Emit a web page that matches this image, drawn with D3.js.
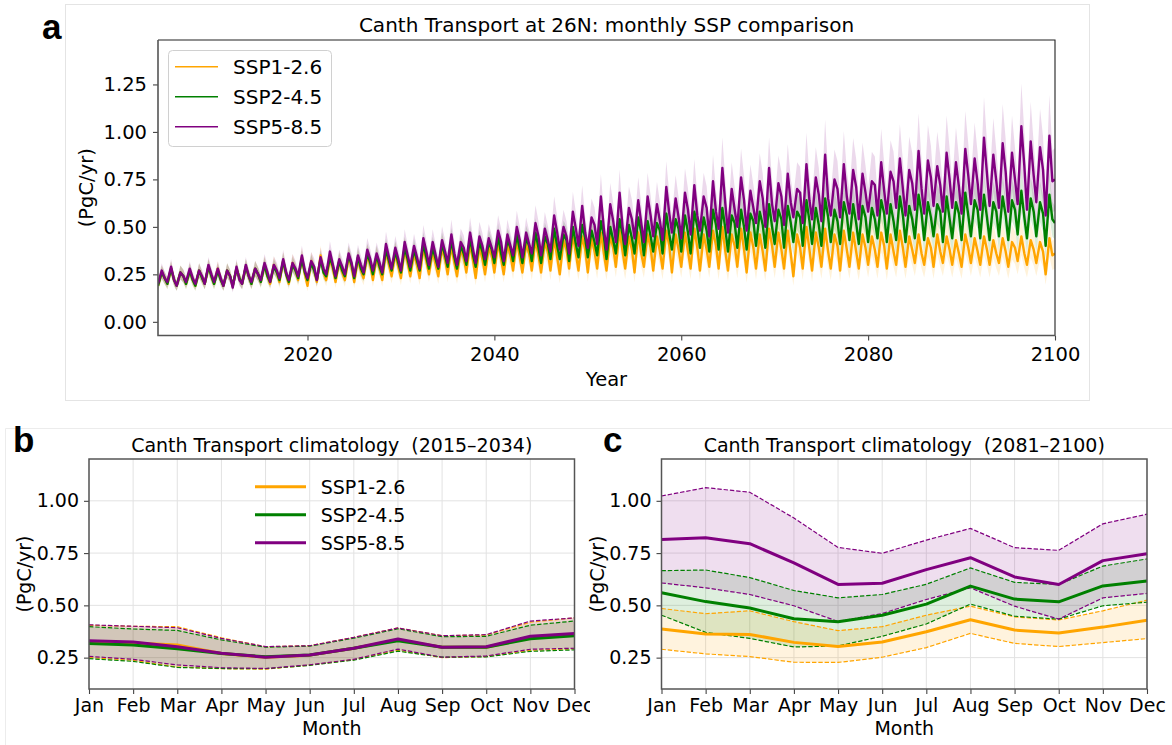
<!DOCTYPE html>
<html><head><meta charset="utf-8">
<script src="https://cdn.jsdelivr.net/npm/d3@7"></script>
<style>
body{margin:0;background:#fff;}
svg text{font-family:"DejaVu Sans",sans-serif;fill:#000;}
</style></head><body>
<svg id="fig" width="1172" height="745"></svg>
<script>
// ---------- data ----------
const scenarios = ["SSP1-2.6", "SSP2-4.5", "SSP5-8.5"];
const colors = ["orange", "green", "purple"];

// per year: seasonal minimum (start of year), maximum, and late-year value
const years = d3.range(2004, 2100);
const ssp126Hi = [0.26,0.28,0.26,0.27,0.27,0.29,0.28,0.27,0.28,0.29,
  0.28,0.30,0.30,0.32,0.31,0.34,0.32,0.35,0.33,0.32,
  0.34,0.33,0.35,0.34,0.37,0.36,0.38,0.36,0.39,0.37,
  0.39,0.40,0.38,0.41,0.40,0.39,0.42,0.41,0.43,0.41,
  0.43,0.42,0.44,0.43,0.46,0.45,0.44,0.47,0.45,0.48,
  0.45,0.47,0.46,0.45,0.48,0.46,0.47,0.49,0.46,0.48,
  0.50,0.46,0.49,0.47,0.46,0.49,0.47,0.48,0.46,0.50,
  0.47,0.49,0.46,0.48,0.47,0.46,0.45,0.47,0.46,0.48,
  0.45,0.46,0.44,0.46,0.45,0.43,0.46,0.44,0.45,0.43,
  0.44,0.42,0.45,0.43,0.42,0.44];
const ssp126Mid = [0.23,0.22,0.24,0.22,0.23,0.24,0.22,0.24,0.23,0.24,
  0.25,0.24,0.26,0.25,0.27,0.25,0.27,0.26,0.28,0.26,
  0.29,0.27,0.30,0.28,0.30,0.29,0.31,0.30,0.32,0.30,
  0.33,0.31,0.34,0.32,0.33,0.35,0.33,0.35,0.34,0.36,
  0.35,0.37,0.34,0.38,0.36,0.38,0.37,0.36,0.39,0.37,
  0.38,0.36,0.39,0.37,0.40,0.38,0.37,0.39,0.38,0.40,
  0.37,0.40,0.38,0.39,0.37,0.40,0.38,0.36,0.39,0.38,
  0.39,0.37,0.40,0.38,0.37,0.39,0.38,0.40,0.37,0.39,
  0.38,0.36,0.39,0.37,0.38,0.36,0.39,0.37,0.38,0.36,
  0.37,0.39,0.36,0.38,0.37,0.35];
const ssp126Lo = [0.19,0.20,0.19,0.20,0.19,0.20,0.20,0.19,0.19,0.20,
  0.20,0.21,0.20,0.21,0.20,0.22,0.19,0.21,0.22,0.21,
  0.22,0.21,0.23,0.22,0.22,0.24,0.23,0.24,0.23,0.25,
  0.24,0.25,0.24,0.26,0.23,0.25,0.26,0.25,0.27,0.26,
  0.27,0.26,0.27,0.25,0.28,0.27,0.26,0.28,0.27,0.29,
  0.28,0.26,0.29,0.27,0.28,0.26,0.29,0.28,0.27,0.29,
  0.28,0.27,0.29,0.26,0.28,0.27,0.29,0.28,0.24,0.28,
  0.27,0.29,0.28,0.27,0.29,0.28,0.30,0.29,0.28,0.30,
  0.29,0.31,0.30,0.29,0.31,0.30,0.29,0.31,0.30,0.30,
  0.31,0.29,0.32,0.30,0.31,0.25,0.36];
const ssp245Hi = [0.26,0.28,0.26,0.27,0.27,0.29,0.27,0.27,0.28,0.29,
  0.28,0.30,0.29,0.32,0.30,0.33,0.31,0.33,0.34,0.32,
  0.35,0.34,0.36,0.35,0.38,0.37,0.39,0.38,0.41,0.39,
  0.41,0.43,0.40,0.44,0.42,0.42,0.45,0.43,0.46,0.44,
  0.47,0.45,0.49,0.46,0.50,0.51,0.48,0.53,0.50,0.54,
  0.51,0.55,0.53,0.52,0.57,0.54,0.56,0.58,0.55,0.59,
  0.60,0.56,0.59,0.57,0.58,0.62,0.59,0.61,0.58,0.64,
  0.60,0.65,0.59,0.63,0.62,0.61,0.60,0.64,0.62,0.66,
  0.61,0.67,0.63,0.62,0.66,0.63,0.68,0.64,0.67,0.63,
  0.66,0.64,0.69,0.65,0.63,0.67];
const ssp245Mid = [0.23,0.22,0.24,0.22,0.23,0.24,0.22,0.24,0.23,0.24,
  0.25,0.24,0.26,0.25,0.27,0.26,0.27,0.26,0.29,0.27,
  0.30,0.28,0.31,0.29,0.32,0.31,0.33,0.32,0.34,0.33,
  0.35,0.34,0.36,0.35,0.37,0.38,0.36,0.39,0.38,0.40,
  0.39,0.41,0.40,0.43,0.41,0.44,0.42,0.45,0.43,0.46,
  0.44,0.47,0.45,0.48,0.46,0.49,0.47,0.50,0.48,0.51,
  0.49,0.52,0.50,0.53,0.51,0.50,0.54,0.52,0.55,0.53,
  0.51,0.55,0.53,0.56,0.52,0.55,0.54,0.57,0.53,0.56,
  0.54,0.57,0.55,0.58,0.54,0.57,0.56,0.59,0.55,0.58,
  0.56,0.59,0.55,0.58,0.57,0.54];
const ssp245Lo = [0.19,0.20,0.19,0.20,0.19,0.20,0.20,0.19,0.19,0.20,
  0.20,0.21,0.21,0.22,0.21,0.23,0.22,0.22,0.24,0.23,
  0.24,0.23,0.25,0.25,0.25,0.27,0.26,0.27,0.27,0.28,
  0.28,0.29,0.28,0.30,0.29,0.30,0.31,0.30,0.32,0.31,
  0.32,0.31,0.33,0.33,0.32,0.34,0.34,0.35,0.33,0.36,
  0.35,0.36,0.35,0.37,0.36,0.38,0.37,0.36,0.39,0.37,
  0.38,0.37,0.39,0.38,0.40,0.39,0.41,0.39,0.42,0.40,
  0.41,0.40,0.42,0.41,0.43,0.41,0.42,0.44,0.42,0.43,
  0.42,0.44,0.43,0.45,0.42,0.44,0.43,0.45,0.44,0.43,
  0.45,0.43,0.46,0.44,0.45,0.40,0.52];
const ssp585Hi = [0.27,0.29,0.26,0.28,0.27,0.30,0.28,0.27,0.29,0.30,
  0.28,0.31,0.30,0.33,0.31,0.35,0.32,0.34,0.37,0.33,
  0.36,0.35,0.38,0.36,0.41,0.39,0.42,0.40,0.44,0.42,
  0.43,0.46,0.42,0.47,0.45,0.44,0.48,0.46,0.50,0.47,
  0.52,0.49,0.56,0.50,0.58,0.61,0.55,0.66,0.62,0.68,
  0.60,0.64,0.66,0.62,0.71,0.65,0.68,0.72,0.66,0.74,
  0.81,0.70,0.76,0.69,0.74,0.81,0.73,0.78,0.70,0.83,
  0.76,0.88,0.75,0.83,0.80,0.78,0.74,0.84,0.79,0.86,
  0.80,0.90,0.85,0.82,0.89,0.84,0.91,0.86,0.97,0.88,
  0.94,0.89,1.03,0.95,0.92,0.98];
const ssp585Mid = [0.23,0.22,0.24,0.23,0.24,0.25,0.23,0.24,0.22,0.24,
  0.25,0.26,0.27,0.26,0.28,0.27,0.29,0.28,0.30,0.29,
  0.31,0.30,0.33,0.31,0.34,0.33,0.35,0.34,0.37,0.35,
  0.37,0.36,0.39,0.38,0.40,0.39,0.42,0.40,0.43,0.41,
  0.45,0.43,0.47,0.45,0.49,0.47,0.51,0.49,0.53,0.50,
  0.54,0.52,0.56,0.53,0.57,0.55,0.59,0.56,0.60,0.58,
  0.62,0.59,0.64,0.60,0.65,0.62,0.66,0.63,0.68,0.64,
  0.67,0.65,0.70,0.66,0.71,0.68,0.72,0.69,0.74,0.70,
  0.73,0.70,0.76,0.72,0.75,0.71,0.77,0.73,0.78,0.74,
  0.79,0.75,0.82,0.77,0.80,0.74];
const ssp585Lo = [0.20,0.21,0.19,0.21,0.20,0.20,0.21,0.19,0.18,0.20,
  0.21,0.22,0.21,0.23,0.22,0.24,0.23,0.22,0.25,0.24,
  0.25,0.24,0.26,0.27,0.26,0.28,0.27,0.29,0.28,0.30,
  0.29,0.31,0.30,0.32,0.31,0.33,0.34,0.32,0.35,0.34,
  0.36,0.35,0.37,0.38,0.36,0.40,0.39,0.41,0.38,0.42,
  0.41,0.44,0.42,0.45,0.43,0.47,0.44,0.46,0.48,0.45,
  0.49,0.47,0.50,0.48,0.52,0.50,0.53,0.51,0.55,0.52,
  0.54,0.53,0.56,0.55,0.57,0.54,0.58,0.56,0.57,0.60,
  0.56,0.59,0.57,0.61,0.58,0.60,0.57,0.62,0.59,0.61,
  0.60,0.58,0.62,0.59,0.63,0.56,0.75];

// inter-model spread (fraction of the mean), one value per decade starting 2004
const ssp126Spread = [0.14,0.15,0.16,0.17,0.19,0.20,0.21,0.22,0.22,0.22];
const ssp245Spread = [0.14,0.14,0.15,0.15,0.16,0.16,0.17,0.17,0.17,0.17];
const ssp585Spread = [0.14,0.15,0.16,0.17,0.18,0.19,0.20,0.21,0.22,0.22];

const yTicksA = [0, 0.25, 0.5, 0.75, 1.0, 1.25];
const xTicksA = [2020, 2040, 2060, 2080, 2100];

// monthly climatology
const months = ["Jan","Feb","Mar","Apr","May","Jun","Jul","Aug","Sep","Oct","Nov","Dec"];
const yTicksClim = [0.25, 0.5, 0.75, 1.0];

// 2015-2034
const early126Mean  = [0.325,0.320,0.310,0.270,0.252,0.262,0.295,0.335,0.300,0.300,0.345,0.360];
const early126Upper = [0.405,0.400,0.398,0.345,0.302,0.307,0.347,0.392,0.355,0.358,0.420,0.440];
const early126Lower = [0.250,0.237,0.205,0.197,0.195,0.214,0.240,0.286,0.250,0.255,0.285,0.292];
const early245Mean  = [0.318,0.310,0.293,0.270,0.254,0.263,0.295,0.331,0.300,0.300,0.340,0.355];
const early245Upper = [0.398,0.387,0.380,0.335,0.300,0.305,0.343,0.388,0.350,0.352,0.405,0.425];
const early245Lower = [0.245,0.232,0.203,0.198,0.197,0.213,0.238,0.281,0.252,0.254,0.280,0.287];
const early585Mean  = [0.331,0.325,0.302,0.271,0.252,0.263,0.295,0.339,0.300,0.302,0.352,0.365];
const early585Upper = [0.407,0.400,0.393,0.342,0.303,0.307,0.347,0.392,0.355,0.360,0.425,0.440];
const early585Lower = [0.256,0.242,0.215,0.202,0.198,0.216,0.242,0.291,0.252,0.258,0.290,0.295];

// 2081-2100
const late126Mean  = [0.387,0.363,0.361,0.323,0.303,0.325,0.374,0.431,0.382,0.368,0.396,0.429];
const late126Upper = [0.485,0.460,0.474,0.422,0.379,0.398,0.453,0.496,0.445,0.430,0.474,0.525];
const late126Lower = [0.290,0.268,0.255,0.228,0.227,0.252,0.298,0.366,0.318,0.303,0.322,0.341];
const late245Mean  = [0.560,0.518,0.487,0.436,0.422,0.453,0.506,0.592,0.530,0.517,0.593,0.617];
const late245Upper = [0.666,0.669,0.633,0.571,0.536,0.552,0.601,0.679,0.610,0.600,0.688,0.722];
const late245Lower = [0.453,0.371,0.342,0.301,0.306,0.352,0.411,0.506,0.448,0.434,0.498,0.515];
const late585Mean  = [0.815,0.823,0.795,0.703,0.600,0.606,0.671,0.728,0.636,0.600,0.714,0.747];
const late585Upper = [1.023,1.063,1.041,0.918,0.777,0.749,0.812,0.868,0.776,0.763,0.890,0.936];
const late585Lower = [0.607,0.584,0.552,0.498,0.423,0.461,0.528,0.584,0.496,0.434,0.536,0.557];

// ---------- drawing ----------
const svg = d3.select("#fig");
const FONT = 19.5;

// light sub-figure frames
svg.append("rect").attr("x", 65.5).attr("y", 4.5).attr("width", 1024).attr("height", 396)
  .attr("fill", "none").attr("stroke", "#e4e4e4");
svg.append("path").attr("d", "M5.5,745V428.5H1172").attr("fill", "none").attr("stroke", "#ececec");

function panelLetter(t, x, y) {
  svg.append("text").attr("x", x).attr("y", y).text(t)
    .style("font-family", "'Liberation Sans', Arial, sans-serif")
    .style("font-weight", "bold").style("font-size", "35px");
}

// ===== panel a =====
const A = {l: 158, r: 1055, t: 40, b: 335.5};
const xA = d3.scaleLinear().domain([2004, 2100]).range([A.l, A.r]);
const yA = d3.scaleLinear().domain([-0.072, 1.484]).range([A.b, A.t]);

svg.append("clipPath").attr("id", "clipA").append("rect")
  .attr("x", A.l).attr("y", A.t).attr("width", A.r - A.l).attr("height", A.b - A.t);

function buildSeries(hi, mid, lo) {
  const pts = [];
  years.forEach((yr, i) => {
    pts.push({t: yr, v: lo[i]});
    pts.push({t: yr + 0.4, v: hi[i]});
    pts.push({t: yr + 0.72, v: mid[i]});
  });
  pts.push({t: 2100, v: lo[years.length]});
  return pts;
}
const seriesA = [
  {pts: buildSeries(ssp126Hi, ssp126Mid, ssp126Lo), spread: ssp126Spread},
  {pts: buildSeries(ssp245Hi, ssp245Mid, ssp245Lo), spread: ssp245Spread},
  {pts: buildSeries(ssp585Hi, ssp585Mid, ssp585Lo), spread: ssp585Spread}
];
const decade = t => Math.min(9, Math.floor((t - 2004) / 10));

const gA = svg.append("g").attr("clip-path", "url(#clipA)");
seriesA.forEach((s, k) => {
  const area = d3.area()
    .x(d => xA(d.t))
    .y0(d => yA(d.v * (1 - s.spread[decade(d.t)])))
    .y1(d => yA(d.v * (1 + s.spread[decade(d.t)])));
  gA.append("path").datum(s.pts).attr("d", area)
    .attr("fill", colors[k]).attr("fill-opacity", 0.15).attr("stroke", "none");
});
seriesA.forEach((s, k) => {
  const line = d3.line().x(d => xA(d.t)).y(d => yA(d.v));
  gA.append("path").datum(s.pts).attr("d", line)
    .attr("fill", "none").attr("stroke", colors[k]).attr("stroke-width", 2.4)
    .attr("stroke-linejoin", "round");
});

// axes a
const axA_y = svg.append("g").attr("transform", `translate(${A.l},0)`)
  .call(d3.axisLeft(yA).tickValues(yTicksA).tickFormat(d3.format(".2f")).tickSize(5).tickPadding(6));
const axA_x = svg.append("g").attr("transform", `translate(0,${A.b})`)
  .call(d3.axisBottom(xA).tickValues(xTicksA).tickFormat(d3.format("d")).tickSize(5).tickPadding(7));
[axA_y, axA_x].forEach(g => {
  g.select(".domain").remove();
  g.selectAll(".tick line").attr("stroke", "#444").attr("stroke-width", 1.1);
  g.selectAll(".tick text").style("font-size", FONT + "px").attr("fill", "#000");
});
// spines
svg.append("path").attr("d", `M${A.l},${A.t}H${A.r}V${A.b}`).attr("fill", "none")
  .attr("stroke", "#222").attr("stroke-width", 1.1);
svg.append("path").attr("d", `M${A.l},${A.t}V${A.b}H${A.r}`).attr("fill", "none")
  .attr("stroke", "#555").attr("stroke-width", 1.6);

svg.append("text").attr("x", (A.l + A.r) / 2).attr("y", 31.7).attr("text-anchor", "middle")
  .style("font-size", "20px").text("Canth Transport at 26N: monthly SSP comparison");
svg.append("text").attr("x", (A.l + A.r) / 2).attr("y", 386).attr("text-anchor", "middle")
  .style("font-size", FONT + "px").text("Year");
svg.append("text").attr("transform", `translate(86,${(A.t + A.b) / 2}) rotate(-90)`)
  .attr("text-anchor", "middle").attr("dominant-baseline", "central")
  .style("font-size", FONT + "px").text("(PgC/yr)");

// legend a
const legA = svg.append("g");
legA.append("rect").attr("x", 168.5).attr("y", 50.5).attr("width", 163).attr("height", 96)
  .attr("rx", 4).attr("fill", "#fff").attr("fill-opacity", 0.85).attr("stroke", "#d0d0d0");
scenarios.forEach((name, k) => {
  const yy = 66.7 + k * 30;
  legA.append("line").attr("x1", 175).attr("x2", 218).attr("y1", yy).attr("y2", yy)
    .attr("stroke", colors[k]).attr("stroke-width", 1.6);
  legA.append("text").attr("x", 233).attr("y", yy).attr("dominant-baseline", "central")
    .style("font-size", "20px").text(name);
});
panelLetter("a", 42, 39);

// ===== climatology panels =====
const yC = d3.scaleLinear().domain([0.1, 1.2]).range([689, 459]);

function climPanel(opts) {
  const {l, r, title, sets, legend, clipId} = opts;
  const t = 459, b = 689;
  const x = d3.scalePoint().domain(months).range([l, r]);
  const yS = yC;
  let g = svg.append("g");
  if (clipId) {
    svg.append("clipPath").attr("id", clipId).append("rect")
      .attr("x", 0).attr("y", 405).attr("width", 590).attr("height", 340);
    g.attr("clip-path", `url(#${clipId})`);
  }
  // grid
  g.append("g").selectAll("line").data(months).join("line")
    .attr("x1", d => x(d)).attr("x2", d => x(d)).attr("y1", t).attr("y2", b)
    .attr("stroke", "#e2e2e2").attr("stroke-width", 1);
  g.append("g").selectAll("line").data(yTicksClim).join("line")
    .attr("x1", l).attr("x2", r).attr("y1", d => yS(d)).attr("y2", d => yS(d))
    .attr("stroke", "#e2e2e2").attr("stroke-width", 1);

  const rows = () => months.map((m, i) => ({m, i}));
  // bands
  sets.forEach((s, k) => {
    const area = d3.area().x(d => x(d.m)).y0(d => yS(s.lower[d.i])).y1(d => yS(s.upper[d.i]));
    g.append("path").datum(rows()).attr("d", area)
      .attr("fill", colors[k]).attr("fill-opacity", 0.13);
  });
  // bounds and means
  sets.forEach((s, k) => {
    [s.upper, s.lower].forEach(arr => {
      const ln = d3.line().x(d => x(d.m)).y(d => yS(arr[d.i]));
      g.append("path").datum(rows()).attr("d", ln).attr("fill", "none")
        .attr("stroke", colors[k]).attr("stroke-width", 1.2).attr("stroke-dasharray", "4.4,1.9");
    });
  });
  sets.forEach((s, k) => {
    const ln = d3.line().x(d => x(d.m)).y(d => yS(s.mean[d.i]));
    g.append("path").datum(rows()).attr("d", ln).attr("fill", "none")
      .attr("stroke", colors[k]).attr("stroke-width", 3).attr("stroke-linejoin", "round");
  });

  const ay = g.append("g").attr("transform", `translate(${l},0)`)
    .call(d3.axisLeft(yS).tickValues(yTicksClim).tickFormat(d3.format(".2f")).tickSize(5).tickPadding(5));
  const ax = g.append("g").attr("transform", `translate(0,${b})`)
    .call(d3.axisBottom(x).tickSize(5).tickPadding(4.5));
  [ay, ax].forEach(a => {
    a.select(".domain").remove();
    a.selectAll(".tick line").attr("stroke", "#444").attr("stroke-width", 1.1);
    a.selectAll(".tick text").style("font-size", "19px").attr("fill", "#000");
  });
  g.append("rect").attr("x", l).attr("y", t).attr("width", r - l).attr("height", b - t)
    .attr("fill", "none").attr("stroke", "#555").attr("stroke-width", 1.5);

  g.append("text").attr("x", (l + r) / 2).attr("y", 452).attr("text-anchor", "middle")
    .style("font-size", "19px").style("white-space", "pre").text(title);
  g.append("text").attr("x", (l + r) / 2).attr("y", 735).attr("text-anchor", "middle")
    .style("font-size", "19px").text("Month");
  g.append("text").attr("transform", `translate(${l - 65},${(t + b) / 2}) rotate(-90)`)
    .attr("text-anchor", "middle").attr("dominant-baseline", "central")
    .style("font-size", "19px").text("(PgC/yr)");

  if (legend) {
    scenarios.forEach((name, k) => {
      const yy = 486.7 + k * 28;
      g.append("line").attr("x1", 255).attr("x2", 306).attr("y1", yy).attr("y2", yy)
        .attr("stroke", colors[k]).attr("stroke-width", 3);
      g.append("text").attr("x", 320.7).attr("y", yy).attr("dominant-baseline", "central")
        .style("font-size", "19px").text(name);
    });
  }
}

climPanel({
  l: 89, r: 574.5, clipId: "clipB", legend: true,
  title: "Canth Transport climatology  (2015\u20132034)",
  sets: [
    {mean: early126Mean, upper: early126Upper, lower: early126Lower},
    {mean: early245Mean, upper: early245Upper, lower: early245Lower},
    {mean: early585Mean, upper: early585Upper, lower: early585Lower}
  ]
});
panelLetter("b", 13, 451.7);

climPanel({
  l: 661.5, r: 1147, legend: false,
  title: "Canth Transport climatology  (2081\u20132100)",
  sets: [
    {mean: late126Mean, upper: late126Upper, lower: late126Lower},
    {mean: late245Mean, upper: late245Upper, lower: late245Lower},
    {mean: late585Mean, upper: late585Upper, lower: late585Lower}
  ]
});
panelLetter("c", 603, 451.7);
</script>
</body></html>
